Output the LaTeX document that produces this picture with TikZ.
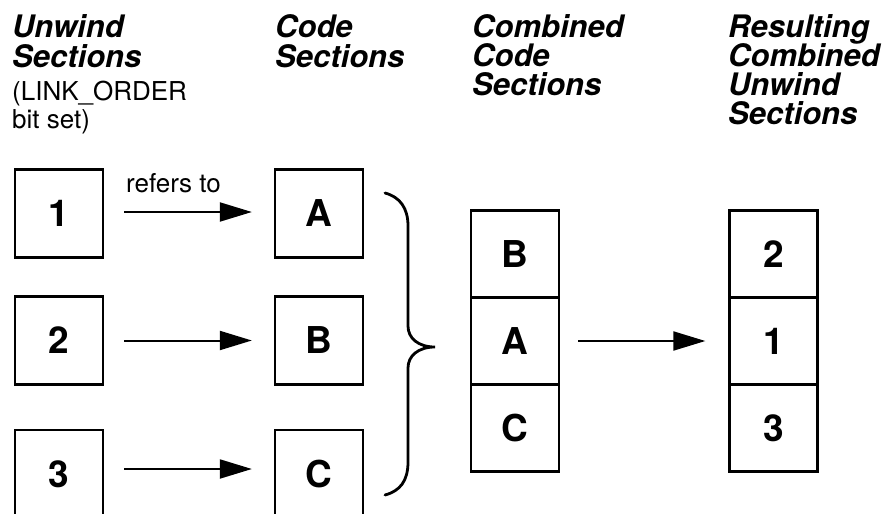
\documentclass[tikz,border=0pt]{standalone}
\usepackage{fontspec}
\setmainfont{TeX Gyre Heros}
\usetikzlibrary{arrows.meta}
\tikzset{
  box/.style={draw, line width=2.3pt, minimum width=88pt, minimum height=88pt, inner sep=0pt, font=\fontsize{37}{40}\selectfont\bfseries},
  cell/.style={draw, line width=2.3pt, minimum width=88pt, minimum height=87pt, inner sep=0pt, font=\fontsize{37}{40}\selectfont\bfseries},
  head/.style={anchor=base west, inner sep=0pt, font=\fontsize{31}{31}\selectfont\bfseries\itshape},
  sub/.style={anchor=base west, inner sep=0pt, font=\fontsize{26}{26}\selectfont},
  arr/.style={line width=2pt, -{Triangle[length=32pt, width=19pt]}},
  bracestyle/.style={line width=2.8pt, line cap=round}
}
\begin{document}
\begin{tikzpicture}[x=1pt, y=-1pt]
\useasboundingbox (0,0) rectangle (887,514);
\clip (0,0) rectangle (887,514);
% headers
\node[head] (h1a) at (12,37) {Unwind};
\node[head] (h1b) at (12,67) {Sections};
\node[sub] (h1c) at (12,100) {(LINK\_ORDER};
\node[sub] (h1d) at (12,128) {bit set)};
\node[head] (h2a) at (275,37) {Code};
\node[head] (h2b) at (275,67) {Sections};
\node[head] (h3a) at (472,37) {Combined};
\node[head] (h3b) at (472,66.5) {Code};
\node[head] (h3c) at (472,95.5) {Sections};
\node[head] (h4a) at (728,37) {Resulting};
\node[head] (h4b) at (728,66.5) {Combined};
\node[head] (h4c) at (728,95.5) {Unwind};
\node[head] (h4d) at (728,124.5) {Sections};
% left boxes
\node[box] (b1) at (59,213.5) {1};
\node[box] (b2) at (59,340.5) {2};
\node[box] (b3) at (59,474) {3};
\node[box] (bA) at (319,213.5) {A};
\node[box] (bB) at (319,340.5) {B};
\node[box] (bC) at (319,474) {C};
% arrows
\draw[arr] ([xshift=20pt,yshift=1.5pt]b1.east) -- ([xshift=-22pt,yshift=1.5pt]bA.west);
\draw[arr] ([xshift=20pt]b2.east) -- ([xshift=-22pt]bB.west);
\draw[arr] ([xshift=20pt,yshift=5pt]b3.east) -- ([xshift=-22pt,yshift=5pt]bC.west);
\node[sub] (ref) at (126,192) {refers to};
% brace
\draw[bracestyle] (385,193) .. controls (400,197) and (408,208) .. (408,226)
  -- (408,326) .. controls (408,338) and (418,347) .. (435,347)
  .. controls (418,347) and (408,356) .. (408,368)
  -- (408,462) .. controls (408,481) and (400,491) .. (385,495);
% combined stack
\node[cell] (cB) at (515,254) {B};
\node[cell] (cA) at (515,341) {A};
\node[cell] (cC) at (515,428) {C};
% result stack
\node[cell] (r2) at (773.5,254) {2};
\node[cell] (r1) at (773.5,341) {1};
\node[cell] (r3) at (773.5,428) {3};
\draw[arr] ([xshift=18pt]cA.east) -- ([xshift=-23pt]r1.west);
\end{tikzpicture}
\end{document}
